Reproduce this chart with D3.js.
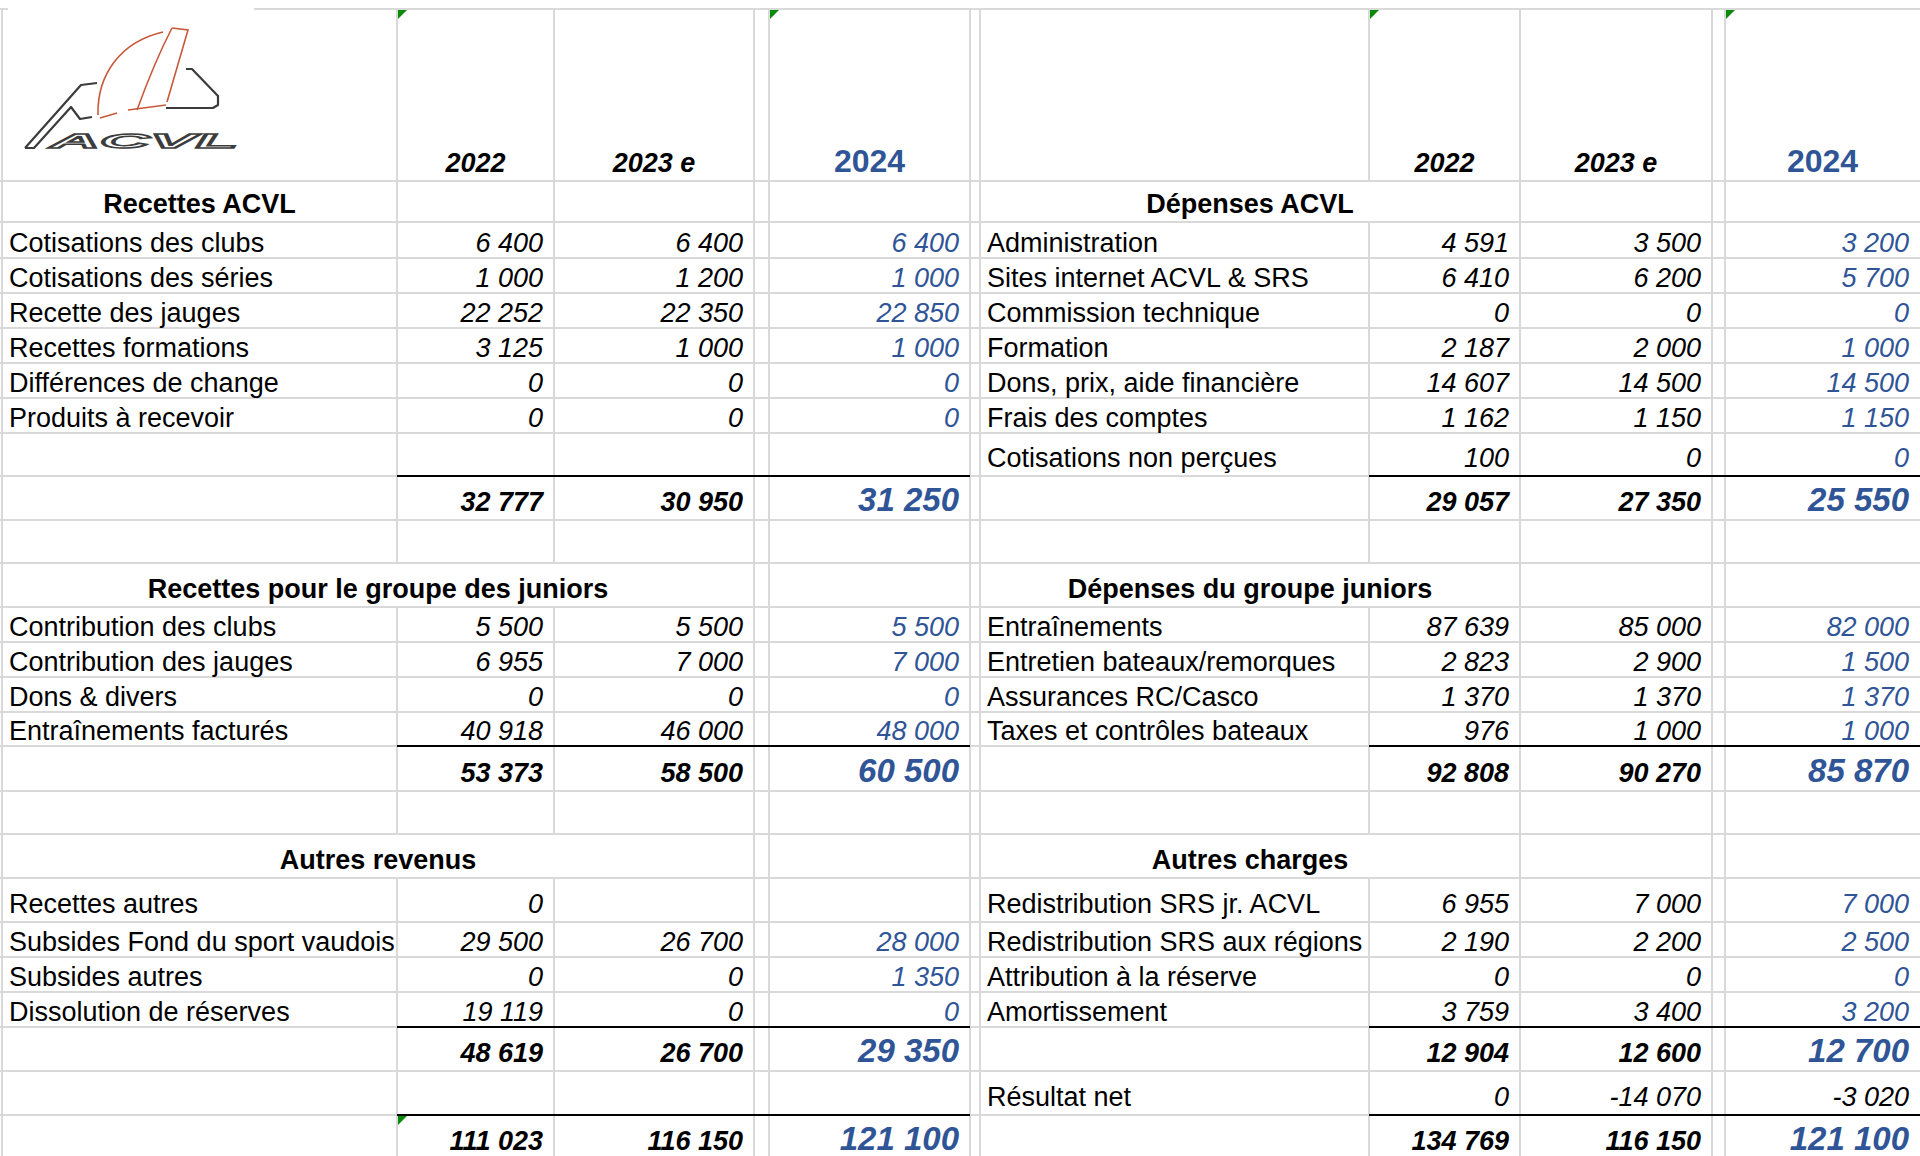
<!DOCTYPE html>
<html lang="fr">
<head>
<meta charset="UTF-8">
<title>Budget ACVL</title>
<script src="https://cdn.jsdelivr.net/npm/d3@7"></script>
<style>
    body { margin: 0; background: #fff; }
    svg text { font-family: "Liberation Sans", Arial, sans-serif; font-size: 27px; fill: #000; }
    .grid { stroke: #d9d9d9; stroke-width: 2; shape-rendering: crispEdges; }
    .rule { stroke: #000; stroke-width: 2; shape-rendering: crispEdges; }
    .head { font-weight: bold; }
    .num { font-style: italic; }
    .tot { font-weight: bold; font-style: italic; }
    .blue { fill: #2f5597; }
    .big { font-size: 33px; }
</style>
</head>
<body>
<script>
    // --- data ---
    var years = ["2022", "2023 e", "2024"];

    var recettesAcvl = [
        ["Cotisations des clubs", 6400, 6400, 6400],
        ["Cotisations des séries", 1000, 1200, 1000],
        ["Recette des jauges", 22252, 22350, 22850],
        ["Recettes formations", 3125, 1000, 1000],
        ["Différences de change", 0, 0, 0],
        ["Produits à recevoir", 0, 0, 0]
    ];
    var recettesAcvlTotal = [32777, 30950, 31250];

    var depensesAcvl = [
        ["Administration", 4591, 3500, 3200],
        ["Sites internet ACVL & SRS", 6410, 6200, 5700],
        ["Commission technique", 0, 0, 0],
        ["Formation", 2187, 2000, 1000],
        ["Dons, prix, aide financière", 14607, 14500, 14500],
        ["Frais des comptes", 1162, 1150, 1150],
        ["Cotisations non perçues", 100, 0, 0]
    ];
    var depensesAcvlTotal = [29057, 27350, 25550];

    var recettesJuniors = [
        ["Contribution des clubs", 5500, 5500, 5500],
        ["Contribution des jauges", 6955, 7000, 7000],
        ["Dons & divers", 0, 0, 0],
        ["Entraînements facturés", 40918, 46000, 48000]
    ];
    var recettesJuniorsTotal = [53373, 58500, 60500];

    var depensesJuniors = [
        ["Entraînements", 87639, 85000, 82000],
        ["Entretien bateaux/remorques", 2823, 2900, 1500],
        ["Assurances RC/Casco", 1370, 1370, 1370],
        ["Taxes et contrôles bateaux", 976, 1000, 1000]
    ];
    var depensesJuniorsTotal = [92808, 90270, 85870];

    var autresRevenus = [
        ["Recettes autres", 0, null, null],
        ["Subsides Fond du sport vaudois", 29500, 26700, 28000],
        ["Subsides autres", 0, 0, 1350],
        ["Dissolution de réserves", 19119, 0, 0]
    ];
    var autresRevenusTotal = [48619, 26700, 29350];

    var autresCharges = [
        ["Redistribution SRS jr. ACVL", 6955, 7000, 7000],
        ["Redistribution SRS aux régions", 2190, 2200, 2500],
        ["Attribution à la réserve", 0, 0, 0],
        ["Amortissement", 3759, 3400, 3200]
    ];
    var autresChargesTotal = [12904, 12600, 12700];

    var resultatNet = ["Résultat net", 0, -14070, -3020];
    var totalRecettes = [111023, 116150, 121100];
    var totalDepenses = [134769, 116150, 121100];

    // --- layout ---
    var width = 1920, height = 1156;
    var colKeys = ["A", "B", "C", "D", "E", "F", "G", "H", "I", "J", "K", "end"];
    var x = d3.scaleOrdinal()
            .domain(colKeys)
            .range([2, 397, 554, 754, 769, 970, 980, 1369, 1520, 1712, 1725, 1920]);
    var rowEdges = [9, 181, 222, 258, 293, 328, 363, 398, 433, 476, 520, 563, 607,
        642, 677, 712, 746, 791, 834, 878, 922, 957, 992, 1027, 1071, 1115, 1159];
    var y = d3.scaleOrdinal().domain(d3.range(rowEdges.length)).range(rowEdges);

    function next(c) { return colKeys[colKeys.indexOf(c) + 1]; }
    function baseline(r) {
        var h = y(r + 1) - y(r);
        return y(r + 1) - (h > 40 ? 9 : 6);
    }

    var fmt = d3.formatLocale({
        decimal: ",", thousands: "\u00a0", grouping: [3], currency: ["", ""], minus: "-"
    }).format(",d");

    var sides = [
        {
            label: "A", cols: ["B", "C", "E"],
            blocks: [
                {title: "Recettes ACVL", span: ["A", "B"], rows: recettesAcvl, total: recettesAcvlTotal, start: 1, totalRow: 9},
                {title: "Recettes pour le groupe des juniors", span: ["A", "D"], rows: recettesJuniors, total: recettesJuniorsTotal, start: 11, totalRow: 16},
                {title: "Autres revenus", span: ["A", "D"], rows: autresRevenus, total: autresRevenusTotal, start: 18, totalRow: 23}
            ],
            extra: null,
            grand: totalRecettes
        },
        {
            label: "G", cols: ["H", "I", "K"],
            blocks: [
                {title: "Dépenses ACVL", span: ["G", "I"], rows: depensesAcvl, total: depensesAcvlTotal, start: 1, totalRow: 9},
                {title: "Dépenses du groupe juniors", span: ["G", "I"], rows: depensesJuniors, total: depensesJuniorsTotal, start: 11, totalRow: 16},
                {title: "Autres charges", span: ["G", "I"], rows: autresCharges, total: autresChargesTotal, start: 18, totalRow: 23}
            ],
            extra: resultatNet,
            grand: totalDepenses
        }
    ];

    // build text cells and merged spans
    var cells = [], hidden = {}, rules = [];
    sides.forEach(function (s) {
        s.cols.forEach(function (c, i) {
            cells.push({x: (x(c) + x(next(c))) / 2, y: baseline(0), anchor: "middle", text: years[i],
                cls: i === 2 ? "head blue big2" : "tot"});
        });
        s.blocks.forEach(function (b) {
            var x0 = x(b.span[0]), x1 = x(b.span[1]);
            cells.push({x: (x0 + x1) / 2, y: baseline(b.start), anchor: "middle", text: b.title, cls: "head"});
            colKeys.slice(colKeys.indexOf(b.span[0]) + 1, colKeys.indexOf(b.span[1])).forEach(function (k) {
                hidden[b.start + ":" + k] = true;
            });
            b.rows.forEach(function (row, j) {
                var r = b.start + 1 + j;
                cells.push({x: x(s.label) + 7, y: baseline(r), anchor: "start", text: row[0], cls: "", clip: s.label});
                s.cols.forEach(function (c, i) {
                    if (row[i + 1] === null) return;
                    cells.push({x: x(next(c)) - 11, y: baseline(r), anchor: "end", text: fmt(row[i + 1]),
                        cls: i === 2 ? "num blue" : "num"});
                });
            });
            s.cols.forEach(function (c, i) {
                cells.push({x: x(next(c)) - 11, y: baseline(b.totalRow), anchor: "end", text: fmt(b.total[i]),
                    cls: i === 2 ? "tot blue big" : "tot"});
            });
            rules.push(b.totalRow);
        });
        if (s.extra) {
            cells.push({x: x(s.label) + 7, y: baseline(24), anchor: "start", text: s.extra[0], cls: ""});
            s.cols.forEach(function (c, i) {
                cells.push({x: x(next(c)) - 11, y: baseline(24), anchor: "end", text: fmt(s.extra[i + 1]), cls: "num"});
            });
        }
        s.cols.forEach(function (c, i) {
            cells.push({x: x(next(c)) - 11, y: baseline(25), anchor: "end", text: fmt(s.grand[i]),
                cls: i === 2 ? "tot blue big" : "tot"});
        });
    });
    rules.push(25);

    var svg = d3.select("body").append("svg")
            .attr("width", width)
            .attr("height", height);

    svg.append("defs").append("clipPath").attr("id", "clipA")
            .append("rect").attr("x", 0).attr("y", 0).attr("width", x("B") - 1).attr("height", height);

    // grid: horizontal lines
    svg.append("g").selectAll("line")
            .data(rowEdges.slice(0, -1))
            .enter().append("line")
            .attr("class", "grid")
            .attr("x1", 0).attr("x2", width)
            .attr("y1", function (d) { return d; })
            .attr("y2", function (d) { return d; });

    // grid: vertical segments per row
    var vSegs = [];
    d3.range(rowEdges.length - 1).forEach(function (r) {
        colKeys.slice(0, -1).forEach(function (k) {
            if (!hidden[r + ":" + k]) vSegs.push({r: r, k: k});
        });
    });
    svg.append("g").selectAll("line")
            .data(vSegs)
            .enter().append("line")
            .attr("class", "grid")
            .attr("x1", function (d) { return x(d.k); })
            .attr("x2", function (d) { return x(d.k); })
            .attr("y1", function (d) { return y(d.r); })
            .attr("y2", function (d) { return y(d.r + 1); });

    // black rules above totals
    var ruleSegs = [];
    rules.forEach(function (r) {
        ruleSegs.push({r: r, a: "B", b: "F"});
        ruleSegs.push({r: r, a: "H", b: "end"});
    });
    svg.append("g").selectAll("line")
            .data(ruleSegs)
            .enter().append("line")
            .attr("class", "rule")
            .attr("x1", function (d) { return x(d.a); })
            .attr("x2", function (d) { return x(d.b); })
            .attr("y1", function (d) { return y(d.r); })
            .attr("y2", function (d) { return y(d.r); });

    // green corner marks
    var marks = [["B", 0], ["E", 0], ["H", 0], ["K", 0], ["B", 25]];
    svg.append("g").selectAll("path")
            .data(marks)
            .enter().append("path")
            .attr("fill", "#0a8a0a")
            .attr("d", function (d) {
                var x0 = x(d[0]) + 1, y0 = y(d[1]) + 1;
                return "M" + x0 + "," + y0 + "h9l-9,9z";
            });

    // logo
    var logo = svg.append("g").attr("class", "logo");
    logo.append("rect").attr("x", 8).attr("y", 8).attr("width", 246).attr("height", 165).attr("fill", "#fff");
    var gray = [
        "M25,148 L81,85 L97,83",
        "M25,148 L34,148 L71,107 L80,119 L92,117",
        "M186,69 L192,69 L218,96 L218,105 L213,108 L166,108"
    ];
    logo.selectAll("path.g").data(gray).enter().append("path")
            .attr("d", function (d) { return d; })
            .attr("fill", "none").attr("stroke", "#3c3c3c").attr("stroke-width", 2.2)
            .attr("stroke-linejoin", "round");
    var red = [
        "M98,115 C97,75 120,42 163,32",
        "M172,28 L188,30 L167,102",
        "M172,28 C158,55 145,88 137,110",
        "M100,118 L117,113",
        "M128,110 L166,105"
    ];
    logo.selectAll("path.r").data(red).enter().append("path")
            .attr("d", function (d) { return d; })
            .attr("fill", "none").attr("stroke", "#c8583a").attr("stroke-width", 1.6);
    logo.append("text")
            .attr("x", 50).attr("y", 148)
            .attr("textLength", 188).attr("lengthAdjust", "spacingAndGlyphs")
            .style("font-size", "21px").style("font-style", "italic").style("font-weight", "bold")
            .style("fill", "none").style("stroke", "#3c3c3c").style("stroke-width", 1.4)
            .text("ACVL");

    // text cells
    svg.append("g").selectAll("text")
            .data(cells)
            .enter().append("text")
            .attr("class", function (d) { return d.cls; })
            .attr("x", function (d) { return d.x; })
            .attr("y", function (d) { return d.y; })
            .attr("text-anchor", function (d) { return d.anchor; })
            .attr("clip-path", function (d) { return d.clip === "A" ? "url(#clipA)" : null; })
            .style("font-size", function (d) { return d.cls.indexOf("big2") >= 0 ? "32px" : null; })
            .text(function (d) { return d.text; });
</script>
</body>
</html>
